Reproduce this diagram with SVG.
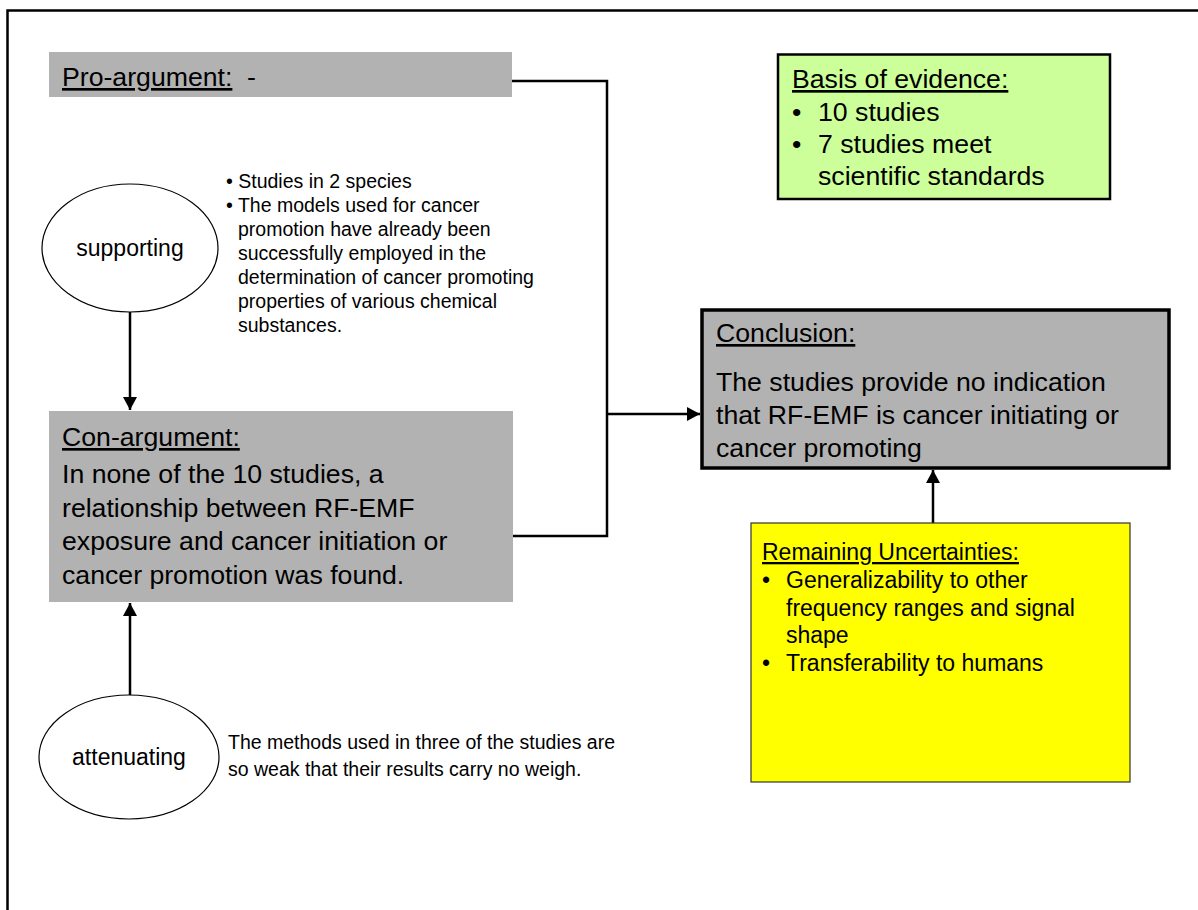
<svg xmlns="http://www.w3.org/2000/svg" width="1198" height="910" viewBox="0 0 1198 910">
<defs>
<marker id="ah" markerUnits="userSpaceOnUse" markerWidth="14" markerHeight="14" refX="13" refY="7" orient="auto"><path d="M0,0 L13,7 L0,14 z" fill="#000"/></marker>
<style>
text{font-family:"Liberation Sans",Arial,sans-serif;fill:#000}
.big{font-size:26.67px}
.mid{font-size:23px}
.sm{font-size:19.5px}
.u{text-decoration:underline}
.conn{fill:none;stroke:#000;stroke-width:2.5}
.gray{fill:#b2b2b2}
.ell{fill:#fff;stroke:#000;stroke-width:1.2}
</style>
</defs>
<rect width="1198" height="910" fill="#fff"/>
<g id="frame"><path d="M1198,10.5 H7.5 V910" fill="none" stroke="#000" stroke-width="2.5"/></g>
<g id="connectors">
<path class="conn" d="M512,81 H607 V536 H513"/>
<path class="conn" d="M607,414 H700" marker-end="url(#ah)"/>
<path class="conn" d="M130,312 V410" marker-end="url(#ah)"/>
<path class="conn" d="M130,695 V603" marker-end="url(#ah)"/>
<path class="conn" d="M933,523 V470" marker-end="url(#ah)"/>
</g>
<g id="pro">
<rect class="gray" x="49" y="52" width="463" height="45"/>
<text class="big" x="62" y="86"><tspan class="u">Pro-argument:</tspan><tspan x="247">-</tspan></text>
</g>
<g id="supporting">
<ellipse class="ell" cx="130" cy="248" rx="88" ry="64"/>
<text class="mid" x="130" y="256" text-anchor="middle">supporting</text>
</g>
<g id="supporting-notes" class="sm">
<text class="sm" x="226" y="188">• Studies in 2 species</text>
<text class="sm" x="226" y="212">• The models used for cancer</text>
<text class="sm" x="238" y="236">promotion have already been</text>
<text class="sm" x="238" y="260">successfully employed in the</text>
<text class="sm" x="238" y="284">determination of cancer promoting</text>
<text class="sm" x="238" y="308">properties of various chemical</text>
<text class="sm" x="238" y="332">substances.</text>
</g>
<g id="con">
<rect class="gray" x="49" y="411" width="464" height="191"/>
<text class="big u" x="62" y="446">Con-argument:</text>
<text class="big" x="62" y="483">In none of the 10 studies, a</text>
<text class="big" x="62" y="516.5">relationship between RF-EMF</text>
<text class="big" x="62" y="550">exposure and cancer initiation or</text>
<text class="big" x="62" y="583.5">cancer promotion was found.</text>
</g>
<g id="attenuating">
<ellipse class="ell" cx="129" cy="757" rx="90" ry="62"/>
<text class="mid" x="129" y="765" text-anchor="middle">attenuating</text>
</g>
<g id="attenuating-notes">
<text class="sm" x="228" y="749">The methods used in three of the studies are</text>
<text class="sm" x="228" y="776">so weak that their results carry no weigh.</text>
</g>
<g id="basis">
<rect x="778" y="54.5" width="332" height="144.5" fill="#ccff99" stroke="#000" stroke-width="2.5"/>
<text class="big u" x="792" y="88">Basis of evidence:</text>
<text class="big" x="792" y="121">•</text><text class="big" x="818" y="121">10 studies</text>
<text class="big" x="792" y="153">•</text><text class="big" x="818" y="153">7 studies meet</text>
<text class="big" x="818" y="185">scientific standards</text>
</g>
<g id="conclusion">
<rect class="gray" x="702" y="310" width="467" height="158" stroke="#000" stroke-width="3.5"/>
<text class="big u" x="716" y="342">Conclusion:</text>
<text class="big" x="716" y="391">The studies provide no indication</text>
<text class="big" x="716" y="424">that RF-EMF is cancer initiating or</text>
<text class="big" x="716" y="457">cancer promoting</text>
</g>
<g id="uncertainties">
<rect x="751" y="523" width="379" height="259" fill="#ffff00" stroke="#333" stroke-width="1.2"/>
<text class="mid u" x="762" y="560">Remaining Uncertainties:</text>
<text class="mid" x="762" y="588">•</text><text class="mid" x="786" y="588">Generalizability to other</text>
<text class="mid" x="786" y="616">frequency ranges and signal</text>
<text class="mid" x="786" y="643">shape</text>
<text class="mid" x="762" y="671">•</text><text class="mid" x="786" y="671">Transferability to humans</text>
</g>
</svg>
